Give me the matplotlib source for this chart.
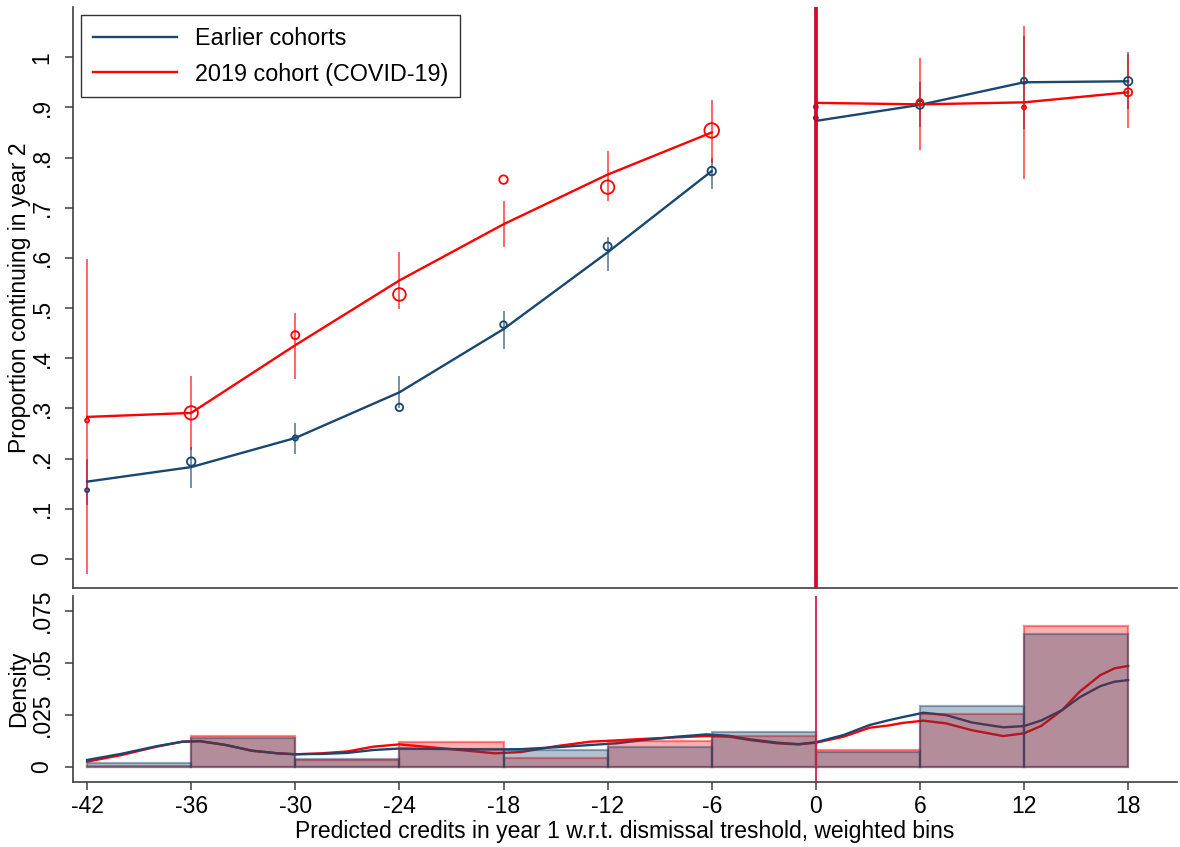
import numpy as np
import matplotlib
matplotlib.use("Agg")
import matplotlib.pyplot as plt

plt.rcParams["font.family"] = ["Liberation Sans", "DejaVu Sans"]
plt.rcParams["font.size"] = 16.5

NAVY = "#1a476f"
RED = "#ff0000"

# --- binned means (top panel) ---
bins_left = [-42, -36, -30, -24, -18, -12, -6]
bins_right = [0, 6, 12, 18]
bins_all = bins_left + bins_right

old_mean = [0.137, 0.194, 0.241, 0.302, 0.467, 0.623, 0.773, 0.879, 0.905, 0.953, 0.952]
old_fit = [0.154, 0.183, 0.241, 0.332, 0.458, 0.611, 0.773, 0.873, 0.905, 0.950, 0.952]
old_lo = [0.108, 0.142, 0.210, 0.300, 0.419, 0.573, 0.737, 0.830, 0.860, 0.856, 0.896]
old_hi = [0.200, 0.224, 0.270, 0.364, 0.494, 0.641, 0.800, 0.915, 0.950, 1.042, 1.010]
old_weight = [4, 18, 7, 14, 11, 16, 18, 4, 16, 9, 18]

new_mean = [0.276, 0.291, 0.446, 0.527, 0.756, 0.741, 0.854, 0.901, 0.910, 0.900, 0.930]
new_fit = [0.283, 0.291, 0.426, 0.555, 0.667, 0.766, 0.850, 0.909, 0.906, 0.910, 0.930]
new_lo = [-0.030, 0.218, 0.359, 0.499, 0.621, 0.713, 0.790, 0.850, 0.815, 0.758, 0.858]
new_hi = [0.597, 0.364, 0.491, 0.611, 0.713, 0.813, 0.914, 0.960, 0.998, 1.062, 1.006]
new_weight = [4, 45, 16, 40, 18, 45, 53, 4, 11, 4, 16]

# --- histogram (bottom panel) ---
hist_edges = [-42, -36, -30, -24, -18, -12, -6, 0, 6, 12, 18]
old_hist = [0.0018, 0.0138, 0.0040, 0.0087, 0.0082, 0.0096, 0.0167, 0.0072, 0.0294, 0.0639]
new_hist = [0.0007, 0.0147, 0.0032, 0.0119, 0.0045, 0.0127, 0.0151, 0.0083, 0.0253, 0.0680]

# --- kernel densities ---
kde_x = [-42, -40, -38, -36.5, -35.5, -34, -32.5, -31, -30, -28.5, -27, -25.5, -24,
         -21.5, -19.5, -18.5, -17, -15, -13, -11.5, -10, -8, -6.3, -5, -3.8, -2.2,
         -1, 0, 1.6, 3.1, 4.2, 5, 6.2, 7.5, 9, 10.8, 12, 13, 14.2, 15.2, 16.4, 17.2, 18]
kde_new = [0.0026, 0.0058, 0.0098, 0.0122, 0.0125, 0.0106, 0.0078, 0.0066, 0.0061,
           0.0066, 0.0075, 0.0098, 0.0109, 0.0090, 0.0074, 0.0066, 0.0072, 0.0100,
           0.0122, 0.0128, 0.0135, 0.0143, 0.0149, 0.0146, 0.0130, 0.0114, 0.0109,
           0.0117, 0.0146, 0.0189, 0.0200, 0.0212, 0.0223, 0.0210, 0.0177, 0.0149,
           0.0162, 0.0198, 0.0274, 0.0362, 0.0442, 0.0474, 0.0486]
kde_old = [0.0034, 0.0064, 0.0100, 0.0122, 0.0124, 0.0106, 0.0079, 0.0066, 0.0062,
           0.0063, 0.0068, 0.0082, 0.0089, 0.0087, 0.0085, 0.0085, 0.0086, 0.0095,
           0.0106, 0.0114, 0.0129, 0.0146, 0.0157, 0.0150, 0.0133, 0.0117, 0.0110,
           0.0119, 0.0154, 0.0202, 0.0225, 0.0240, 0.0261, 0.0250, 0.0214, 0.0191,
           0.0197, 0.0224, 0.0274, 0.0335, 0.0389, 0.0410, 0.0418]

xticks = [-42, -36, -30, -24, -18, -12, -6, 0, 6, 12, 18]
XLIM = (-42.81, 20.82)


def style_axis(ax):
    for s in ("top", "right"):
        ax.spines[s].set_visible(False)
    for s in ("left", "bottom"):
        ax.spines[s].set_color("#404040")
        ax.spines[s].set_linewidth(1.2)
    ax.tick_params(axis="both", direction="out", length=6, width=1.1, color="#404040")
    ax.tick_params(axis="y", labelrotation=90, pad=8)
    for lab in ax.get_yticklabels():
        lab.set_va("center")


fig = plt.figure(figsize=(11.8, 8.47), dpi=100)
ax1 = fig.add_axes([0.0619, 0.3058, 0.9356, 0.6859])
ax2 = fig.add_axes([0.0619, 0.0767, 0.9356, 0.2196])

# ---------- top panel ----------
nl = len(bins_left)
segs = [slice(0, nl), slice(nl, None)]
x_all = np.array(bins_all, dtype=float)

for mean, fit, lo, hi, w, col in [
    (old_mean, old_fit, old_lo, old_hi, old_weight, NAVY),
    (new_mean, new_fit, new_lo, new_hi, new_weight, RED),
]:
    ax1.vlines(x_all, lo, hi, color=col, lw=1.2, alpha=0.7, zorder=2)
    for sl in segs:
        ax1.plot(x_all[sl], np.array(fit)[sl], color=col, lw=1.7, zorder=3)
    ax1.scatter(x_all, mean, s=np.array(w) * 2.07, facecolors="none",
                edgecolors=col, linewidths=1.3, zorder=4)

ax1.axvline(0, color="#b0003a", lw=2.6, zorder=5)
ax1.axvline(0, color="#e8001c", lw=1.6, zorder=5)

ax1.plot([], [], color=NAVY, lw=1.7, label="Earlier cohorts")
ax1.plot([], [], color=RED, lw=1.7, label="2019 cohort (COVID-19)")
leg = ax1.legend(loc="upper left", bbox_to_anchor=(0.0072, 0.986), borderaxespad=0,
                 frameon=True, fancybox=False, edgecolor="black", fontsize=16.8,
                 handlelength=3.6, handletextpad=0.8, labelspacing=0.55,
                 borderpad=0.5)
leg.get_frame().set_linewidth(1.0)

ax1.set_xlim(*XLIM)
ax1.set_ylim(-0.058, 1.10)
ax1.set_yticks(np.arange(0, 1.01, 0.1))
ax1.set_yticklabels(["0", ".1", ".2", ".3", ".4", ".5", ".6", ".7", ".8", ".9", "1"])
ax1.set_xticks([])
ax1.set_ylabel("Proportion continuing in year 2", labelpad=0)
style_axis(ax1)

# ---------- bottom panel ----------
left = np.array(hist_edges[:-1], dtype=float)
width = np.diff(hist_edges)

ax2.plot(kde_x, kde_new, color=RED, lw=1.7, zorder=1)
ax2.plot(kde_x, kde_old, color=NAVY, lw=1.7, zorder=1)
ax2.bar(left, new_hist, width=width, align="edge",
        color=(1.0, 0.0, 0.0, 0.31), edgecolor=(1.0, 0.0, 0.0, 0.45), lw=1.6, zorder=2)
ax2.bar(left, old_hist, width=width, align="edge",
        color=(26/255, 71/255, 111/255, 0.33), edgecolor=(26/255, 71/255, 111/255, 0.45),
        lw=1.6, zorder=3)
ax2.axvline(0, color="#d02048", lw=1.3, zorder=4)

ax2.set_xlim(*XLIM)
ax2.set_ylim(-0.0072, 0.0822)
ax2.set_yticks([0, 0.025, 0.05, 0.075])
ax2.set_yticklabels(["0", ".025", ".05", ".075"])
ax2.set_xticks(xticks)
ax2.set_xticklabels([str(v) for v in xticks])
ax2.set_ylabel("Density", labelpad=0)
ax2.set_xlabel("Predicted credits in year 1 w.r.t. dismissal treshold, weighted bins",
               labelpad=2)
style_axis(ax2)
ax2.tick_params(axis="x", pad=3)

fig.savefig("out.png", dpi=100)
